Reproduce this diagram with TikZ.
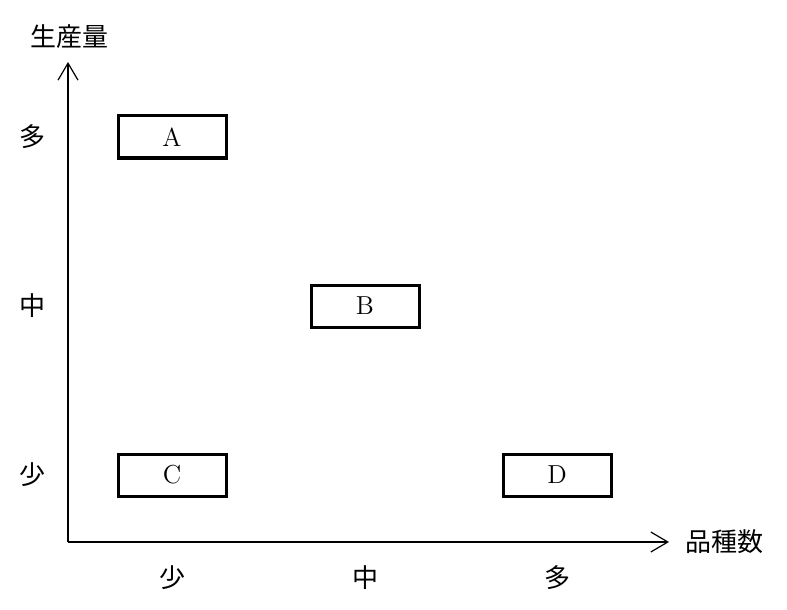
\documentclass[tikz,border=0pt]{standalone}
\usepackage{fontspec}
\newfontfamily\jp{Noto Sans CJK JP}
\usetikzlibrary{arrows.meta,positioning}
\tikzset{pbox/.style={draw=black, line width=1.5pt, minimum width=54pt, minimum height=21pt, inner sep=0pt, font=\fontsize{13}{15}\selectfont}}
\tikzset{plabel/.style={inner sep=0pt, font=\jp\fontsize{13}{15}\selectfont}}
\tikzset{axis/.style={line width=0.7pt, -{Straight Barb[length=8.5pt, width=10pt, line width=0.6pt]}}}

\begin{document}
\begin{tikzpicture}[x=0.5pt,y=-0.5pt]
    \useasboundingbox (0,0) rectangle (787,610);
    \coordinate (o) at (68,542);
    \coordinate (ytop) at (68,62);
    \coordinate (xend) at (669,542);

    \draw[axis] (o) -- (ytop);
    \draw[axis] (o) -- (xend);

    \node[plabel] (ylab) at (70,37) {生産量};
    \node[plabel, right=8pt of xend] (xlab) {品種数};

	\node[plabel] (yhi) at (32,137) {多};
	\node[plabel] (ymid) at (32,306) {中};
	\node[plabel] (ylo) at (32,475) {少};

	\node[plabel] (xlo) at (172,578) {少};
	\node[plabel] (xmid) at (365,578) {中};
	\node[plabel] (xhi) at (557,578) {多};

	\node[pbox] (A) at (172,137) {A};
	\node[pbox] (B) at (365,306) {B};
	\node[pbox] (C) at (172,475) {C};
	\node[pbox] (D) at (557,475) {D};
\end{tikzpicture}
\end{document}
